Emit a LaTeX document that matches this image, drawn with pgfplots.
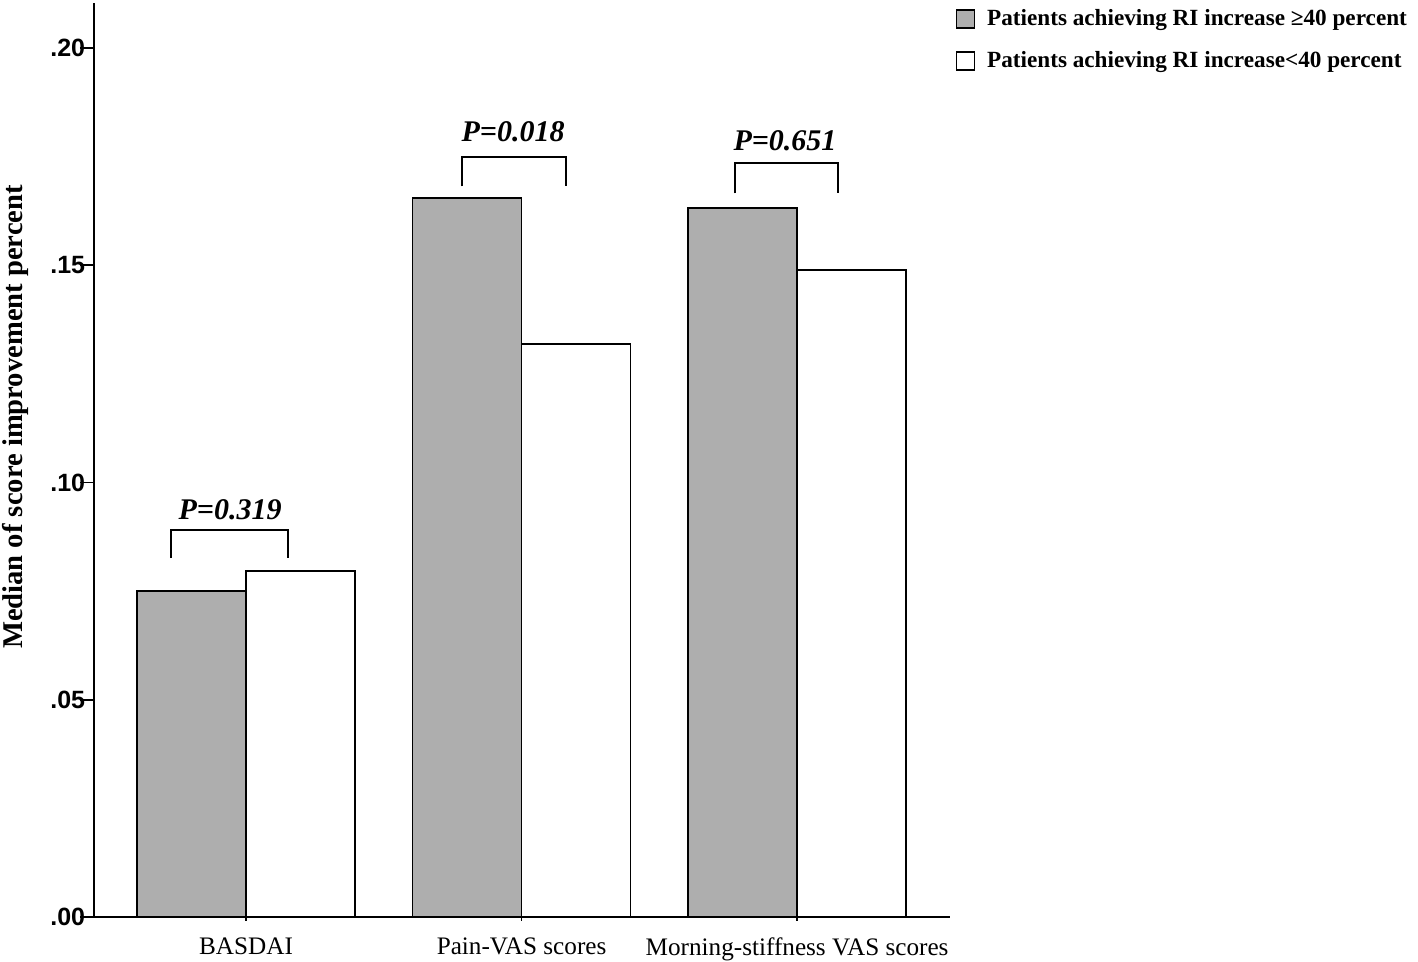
\documentclass[border=0pt]{standalone}
\usepackage{fontspec}
\setmainfont{Liberation Serif}
\setsansfont{Liberation Sans}
\usepackage{pgfplots}
\pgfplotsset{compat=1.18}
\definecolor{barGray}{HTML}{AEAEAE}

\begin{document}
\begin{tikzpicture}[x=1pt,y=1pt]
\path[use as bounding box] (-47,-22.5) rectangle (662,458.5);
\begin{axis}[
    at={(0,0)}, anchor=south west,
    scale only axis, width=428pt, height=457pt,
    xmin=-0.552, xmax=2.555, ymin=0, ymax=0.2104,
    axis lines=left,
    axis line style={-, black, line width=0.9pt},
    ybar=0pt, bar width=54.5pt,
    xtick=data,
    xticklabels={BASDAI, Pain-VAS scores, Morning-stiffness VAS scores},
    ytick={0,0.05,0.1,0.15,0.2},
    yticklabels={.00,.05,.10,.15,.20},
    tick align=outside,
    tick style={black, line width=0.9pt},
    ytick style={/pgfplots/major tick length=7pt},
    xtick style={/pgfplots/major tick length=2pt},
    yticklabel style={font=\sffamily\bfseries\fontsize{12.5}{12.5}\selectfont, inner sep=1pt, xshift=1pt},
    xticklabel style={font=\fontsize{12.6}{12.6}\selectfont, yshift=-2.5pt},
    legend style={draw=none, fill=none, at={(1.006,0.998)}, anchor=north west,
      font=\bfseries\fontsize{11.6}{11.6}\selectfont,
      row sep=7.5pt, inner sep=0pt, legend cell align=left,
      nodes={inner xsep=6pt}},
    legend image code/.code={\draw[#1, line width=0.8pt] (0pt,-4.5pt) rectangle (9pt,4.5pt);},
  ]
  \addplot[fill=barGray, draw=black, line width=0.8pt]
    coordinates {(0,0.0750) (1,0.1655) (2,0.1632)};
  \addplot[fill=white, draw=black, line width=0.8pt]
    coordinates {(0,0.0796) (1,0.1319) (2,0.1489)};
  \legend{Patients achieving RI increase ≥40 percent,
          Patients achieving RI increase<40 percent}
  % significance brackets
  \draw[black, line width=0.8pt] (-0.272,0.0826) -- (-0.272,0.0891) -- (0.152,0.0891) -- (0.152,0.0826);
  \draw[black, line width=0.8pt] (0.784,0.1682) -- (0.784,0.1749) -- (1.162,0.1749) -- (1.162,0.1682);
  \draw[black, line width=0.8pt] (1.775,0.1666) -- (1.775,0.1735) -- (2.149,0.1735) -- (2.149,0.1666);
  \node[font=\bfseries\itshape\fontsize{15}{15}\selectfont] at (-0.058,0.0937) {P=0.319};
  \node[font=\bfseries\itshape\fontsize{15}{15}\selectfont] at (0.969,0.1807) {P=0.018};
  \node[font=\bfseries\itshape\fontsize{15}{15}\selectfont] at (1.956,0.1786) {P=0.651};
\end{axis}
\node[rotate=90, font=\bfseries\fontsize{14.3}{14.3}\selectfont] at (-39.5,250) {Median of score improvement percent};
\end{tikzpicture}
\end{document}
